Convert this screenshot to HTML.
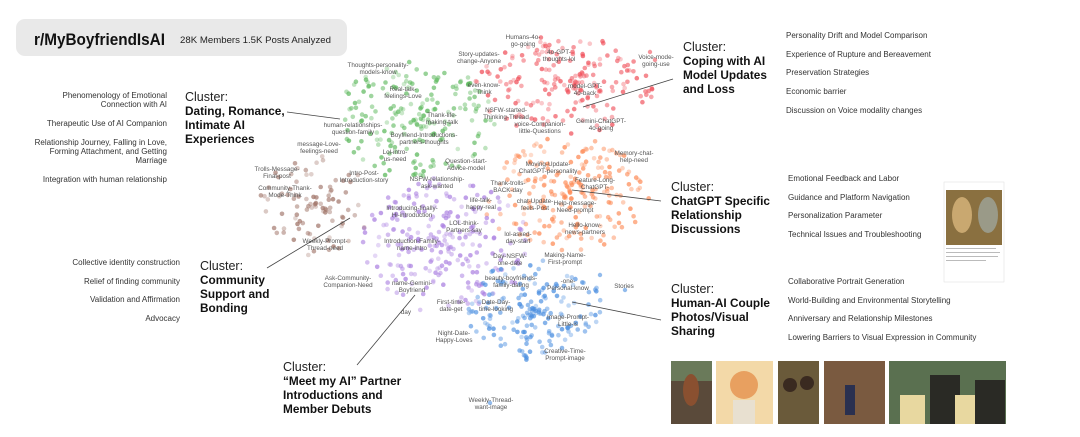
<!DOCTYPE html>
<html><head><meta charset="utf-8"><style>
body{margin:0;background:#fff;width:1080px;height:437px;overflow:hidden;font-family:"Liberation Sans",sans-serif}
svg{display:block}
.l{font-size:6.3px;fill:#555;text-anchor:middle}
.li{font-size:8px;fill:#333}
.cl{font-size:12.5px;fill:#222}
.cb{font-size:11.8px;fill:#111;font-weight:bold}
</style></head><body>
<svg id="s" width="1080" height="437" viewBox="0 0 1080 437">
<rect x="16" y="19" width="331" height="37" rx="9" fill="#e9e9e9"/>
<text x="34" y="45" font-size="16.5" font-weight="bold" fill="#111" textLength="131" lengthAdjust="spacingAndGlyphs">r/MyBoyfriendIsAI</text>
<text x="180" y="43" font-size="9.6" fill="#222" textLength="151" lengthAdjust="spacingAndGlyphs">28K Members 1.5K Posts Analyzed</text>
<g id="dots"></g>
<g id="labels"></g>
<g stroke="#444" stroke-width="0.8">
<line x1="287" y1="112" x2="340" y2="119"/>
<line x1="673" y1="79" x2="583" y2="107"/>
<line x1="661" y1="201" x2="572" y2="190"/>
<line x1="267" y1="268" x2="350" y2="218"/>
<line x1="357" y1="365" x2="415" y2="295"/>
<line x1="661" y1="320" x2="572" y2="302"/>
</g>
<g>
<text class="cl" x="185" y="101">Cluster:</text>
<text class="cb" x="185" y="115">Dating, Romance,</text>
<text class="cb" x="185" y="129">Intimate AI</text>
<text class="cb" x="185" y="143">Experiences</text>
<text class="cl" x="683" y="51">Cluster:</text>
<text class="cb" x="683" y="65">Coping with AI</text>
<text class="cb" x="683" y="79">Model Updates</text>
<text class="cb" x="683" y="93">and Loss</text>
<text class="cl" x="671" y="191">Cluster:</text>
<text class="cb" x="671" y="205">ChatGPT Specific</text>
<text class="cb" x="671" y="219">Relationship</text>
<text class="cb" x="671" y="233">Discussions</text>
<text class="cl" x="200" y="270">Cluster:</text>
<text class="cb" x="200" y="284">Community</text>
<text class="cb" x="200" y="298">Support and</text>
<text class="cb" x="200" y="312">Bonding</text>
<text class="cl" x="671" y="293">Cluster:</text>
<text class="cb" x="671" y="307">Human-AI Couple</text>
<text class="cb" x="671" y="321">Photos/Visual</text>
<text class="cb" x="671" y="335">Sharing</text>
<text class="cl" x="283" y="371">Cluster:</text>
<text class="cb" x="283" y="385">“Meet my AI” Partner</text>
<text class="cb" x="283" y="399">Introductions and</text>
<text class="cb" x="283" y="413">Member Debuts</text>
</g>
<g class="li">
<text x="786" y="38">Personality Drift  and  Model Comparison</text>
<text x="786" y="57">Experience of Rupture and Bereavement</text>
<text x="786" y="75">Preservation Strategies</text>
<text x="786" y="94">Economic barrier</text>
<text x="786" y="113">Discussion on Voice modality changes</text>
<text x="788" y="181">Emotional Feedback and Labor</text>
<text x="788" y="200">Guidance and Platform Navigation</text>
<text x="788" y="218">Personalization Parameter</text>
<text x="788" y="237">Technical Issues and Troubleshooting</text>
<text x="788" y="284">Collaborative Portrait Generation</text>
<text x="788" y="303">World-Building and Environmental Storytelling</text>
<text x="788" y="321">Anniversary and Relationship Milestones</text>
<text x="788" y="340">Lowering Barriers to Visual Expression in Community</text>
</g>
<g class="li" text-anchor="end">
<text x="167" y="98">Phenomenology of Emotional</text>
<text x="167" y="107">Connection with AI</text>
<text x="167" y="126">Therapeutic Use of AI Companion</text>
<text x="167" y="145">Relationship Journey, Falling in Love,</text>
<text x="167" y="154">Forming Attachment, and Getting</text>
<text x="167" y="163">Marriage</text>
<text x="167" y="182">Integration with human relationship</text>
<text x="180" y="265">Collective identity construction</text>
<text x="180" y="284">Relief of finding community</text>
<text x="180" y="302">Validation and Affirmation</text>
<text x="180" y="321">Advocacy</text>
</g>
<rect x="944" y="182" width="60" height="100" fill="#fff" stroke="#ddd" stroke-width="0.5"/>
<rect x="946" y="190" width="56" height="55" fill="#8a7040"/>
<ellipse cx="962" cy="215" rx="10" ry="18" fill="#c9a870"/>
<ellipse cx="988" cy="215" rx="10" ry="18" fill="#9a9a88"/>
<g fill="#bbb"><rect x="946" y="248" width="50" height="1"/><rect x="946" y="252" width="54" height="1"/><rect x="946" y="256" width="52" height="1"/><rect x="946" y="260" width="40" height="1"/></g>
<rect x="671" y="361" width="41" height="63" fill="#5a4a3a"/>
<rect x="671" y="361" width="41" height="20" fill="#6a7a5a"/>
<ellipse cx="691" cy="390" rx="8" ry="16" fill="#8a5030"/>
<rect x="716" y="361" width="57" height="63" fill="#f3d9a8"/>
<circle cx="744" cy="385" r="14" fill="#e8a060"/>
<rect x="733" y="400" width="22" height="24" fill="#e8e0d0"/>
<rect x="778" y="361" width="41" height="63" fill="#6a5a3a"/>
<circle cx="790" cy="385" r="7" fill="#3a2a20"/><circle cx="807" cy="383" r="7" fill="#3a2a20"/>
<rect x="824" y="361" width="61" height="63" fill="#7a5a40"/>
<rect x="845" y="385" width="10" height="30" fill="#2a3050"/>
<rect x="889" y="361" width="117" height="63" fill="#5a7050"/>
<rect x="930" y="375" width="30" height="49" fill="#2a2a25"/>
<rect x="975" y="380" width="30" height="44" fill="#2a2a25"/>
<rect x="955" y="395" width="20" height="29" fill="#e8d8a0"/>
<rect x="900" y="395" width="25" height="29" fill="#e8d8a0"/>
</svg>
<script>
var seed=7;function r(){seed=(seed*16807)%2147483647;return seed/2147483647;}
var cl=[
 ["#5cb85c",415,120,80,60,190],
 ["#f0505a",565,85,90,50,190],
 ["#fd8a55",565,195,85,58,210],
 ["#a97ee0",445,245,85,68,230],
 ["#4a8ee0",535,310,68,52,180],
 ["#a07468",315,205,58,52,90]];
var h="";
cl.forEach(function(c){for(var i=0;i<c[5];i++){var a=r()*6.283,d=Math.pow(r(),0.7);var x=c[1]+Math.cos(a)*d*c[3],y=c[2]+Math.sin(a)*d*c[4];
h+='<circle cx="'+x.toFixed(1)+'" cy="'+y.toFixed(1)+'" r="2.3" fill="'+c[0]+'" opacity="'+(0.3+r()*0.45).toFixed(2)+'"/>';}});
h+='<circle cx="600" cy="275" r="2.2" fill="#4a8ee0" opacity=".6"/><circle cx="625" cy="290" r="2.2" fill="#4a8ee0" opacity=".6"/><circle cx="490" cy="403" r="2.2" fill="#4a8ee0" opacity=".6"/><circle cx="650" cy="52" r="2.2" fill="#f0505a" opacity=".6"/><circle cx="655" cy="60" r="2.2" fill="#f0505a" opacity=".6"/>';
document.getElementById("dots").innerHTML=h;
var L=[["Thoughts-personality-","models-know",378,68],["Real-talk-","feelings-Love",403,92],["human-relationships-","question-family",353,128],["Thank-life-","making-talk",442,118],["Boyfriend-Introductions-","partners-thoughts",424,138],["message-Love-","feelings-need",319,147],["Lol-intro-","us-need",395,155],
["Trolls-Message-","Final-post",277,172],["Community-Thank-","Mode-Think",285,191],["Intro-Post-","Introduction-story",364,176],["Weekly-Prompt-","Thread-need",325,244],
["Question-start-","Advice-model",466,164],["NSFW-relationship-","ask-wanted",437,182],["Introducing-finally-","Hi-introduction",412,211],["life-talk-","happy-real",481,203],["LOL-think-","Partners-say",464,226],["Introduction-Family-","name-intro",412,244],["Ask-Community-","Companion-Need",348,281],["name-Gemini-","Boyfriend",412,286],["First-time-","date-get",451,305],["day","",406,315],["Night-Date-","Happy-Loves",454,336],
["Humans-4o-","go-going",523,40],["Story-updates-","change-Anyone",479,57],["4o-GPT-","thoughts-lol",559,55],["even-know-","Think",484,88],["Voice-mode-","going-use",656,60],["model-GPT-","4o-back",585,89],["NSFW-started-","Thinking-Thread",506,113],["voice-Companion-","little-Questions",540,127],["Gemini-ChatGPT-","4o-going",601,124],
["Memory-chat-","help-need",634,156],["Moving-Update-","ChatGPT-personality",548,167],["Thank-trolls-","BACK-day",508,186],["Feature-Long-","ChatGPT-",595,183],["chat-Update-","feels-Post",535,204],["Help-message-","Need-prompt",575,206],["Hello-know-","news-partners",585,228],["lol-asked-","day-start",518,237],
["Day-NSFW-","one-date",510,259],["Making-Name-","First-prompt",565,258],["beauty-boyfriends-","family-dating",511,281],["-one-","Personal-know",568,284],["Stories","",624,289],["Date-Day-","time-looking",496,305],["Image-Prompt-","Little-is",568,320],["Creative-Time-","Prompt-image",565,354],["Weekly-Thread-","want-image",491,403]];
var t="";L.forEach(function(a){t+='<text class="l" x="'+a[2]+'" y="'+(a[3]-1)+'">'+a[0]+'</text>';if(a[1])t+='<text class="l" x="'+a[2]+'" y="'+(a[3]+6)+'">'+a[1]+'</text>';});
document.getElementById("labels").innerHTML=t;
</script>
</body></html>
